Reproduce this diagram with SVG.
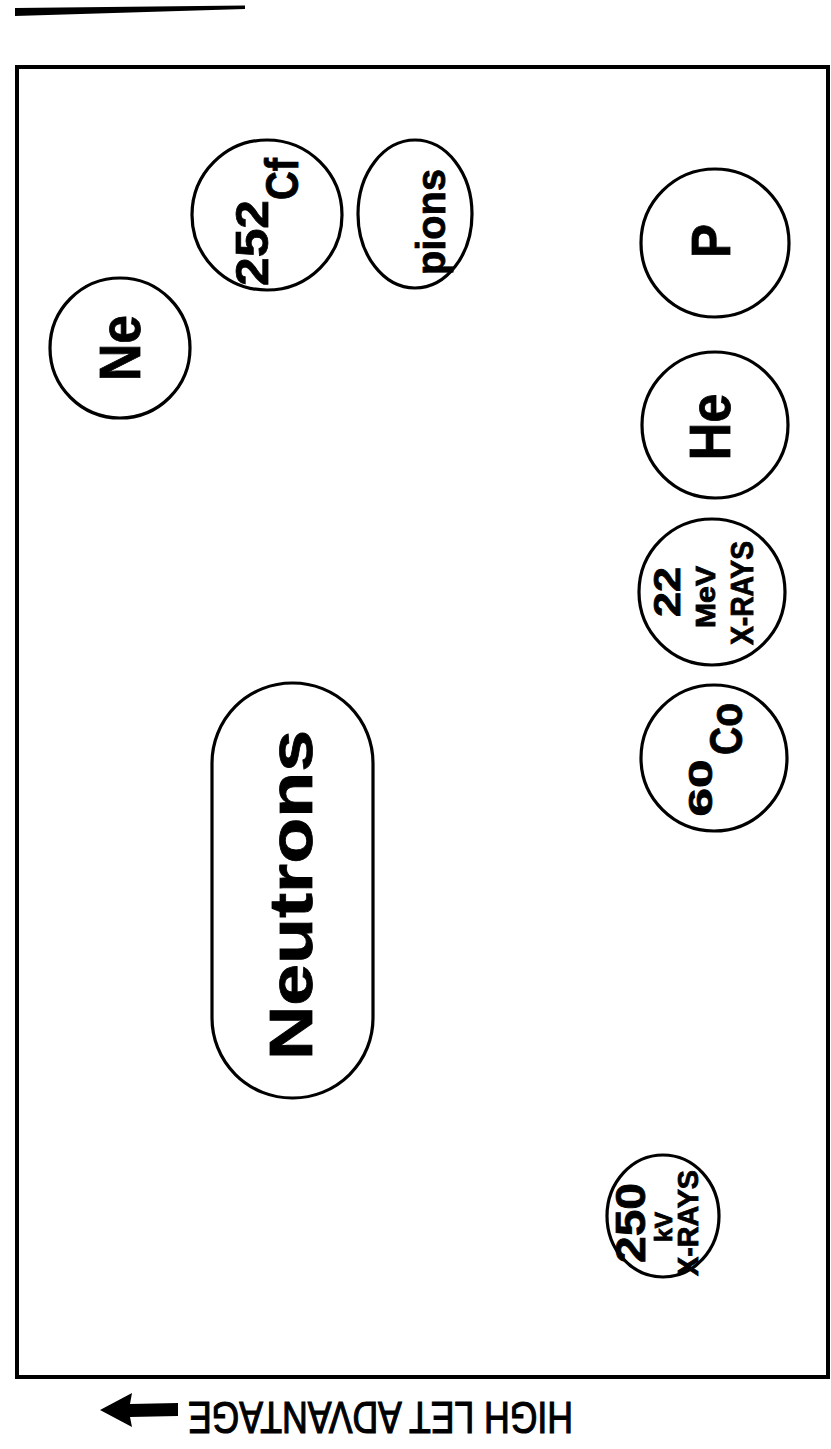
<svg xmlns="http://www.w3.org/2000/svg" width="831" height="1449" viewBox="0 0 831 1449">
<style>
.node{fill:#fff;stroke:#000;stroke-width:3.2}
.t{font-family:"Liberation Sans",Arial,Helvetica,sans-serif;font-weight:bold;fill:#000;stroke:#000;stroke-width:0.8;text-anchor:middle}
.cap{font-family:"Liberation Sans",Arial,Helvetica,sans-serif;font-weight:normal;fill:#000;stroke:#000;stroke-width:1.2;text-anchor:middle}
</style>
<rect width="831" height="1449" fill="#fff"/>
<polygon points="15,8 245,5.5 245,9 15,16" fill="#000"/>
<rect x="17" y="67" width="811" height="1310" fill="none" stroke="#000" stroke-width="4"/>

<g id="Ne">
<circle class="node" cx="120" cy="348" r="70"/>
<g transform="translate(120,348) rotate(-90)"><text class="t" x="0" y="20" font-size="58" textLength="66" lengthAdjust="spacingAndGlyphs">Ne</text></g>
</g>
<g id="Cf252">
<circle class="node" cx="267" cy="215" r="75"/>
<g transform="translate(267,215) rotate(-90)">
<text class="t" x="-28" y="1" font-size="46" textLength="86" lengthAdjust="spacingAndGlyphs">252</text>
<text class="t" x="36" y="31" font-size="46" textLength="42" lengthAdjust="spacingAndGlyphs">Cf</text>
</g>
</g>
<g id="pions">
<ellipse class="node" cx="415" cy="214" rx="57" ry="74"/>
<g transform="translate(415,222) rotate(-90)"><text class="t" x="0" y="30" font-size="41" textLength="106" lengthAdjust="spacingAndGlyphs">pions</text></g>
</g>
<g id="P">
<circle class="node" cx="715" cy="243" r="74"/>
<g transform="translate(715,241) rotate(-90)"><text class="t" x="0" y="15" font-size="55" textLength="34" lengthAdjust="spacingAndGlyphs">P</text></g>
</g>
<g id="He">
<circle class="node" cx="715" cy="425" r="73"/>
<g transform="translate(715,427) rotate(-90)"><text class="t" x="0" y="15" font-size="58" textLength="67" lengthAdjust="spacingAndGlyphs">He</text></g>
</g>
<g id="X22MeV">
<circle class="node" cx="712" cy="592" r="73"/>
<g transform="translate(712,592) rotate(-90)">
<text class="t" x="0" y="-32" font-size="37" textLength="50" lengthAdjust="spacingAndGlyphs">22</text>
<text class="t" x="-5" y="3" font-size="28" textLength="62" lengthAdjust="spacingAndGlyphs">MeV</text>
<text class="t" x="-1" y="41" font-size="31" textLength="104" lengthAdjust="spacingAndGlyphs">X-RAYS</text>
</g>
</g>
<g id="Co60">
<circle class="node" cx="714" cy="758" r="73"/>
<g transform="translate(714,758) rotate(-90)">
<text class="t" x="-30" y="-2" font-size="33" textLength="57" lengthAdjust="spacingAndGlyphs">60</text>
<text class="t" x="29" y="28" font-size="46" textLength="52" lengthAdjust="spacingAndGlyphs">Co</text>
</g>
</g>
<g id="Neutrons">
<rect class="node" x="212" y="683" width="161" height="415" rx="80" ry="80"/>
<g transform="translate(292,895) rotate(-90)"><text class="t" x="0" y="20" font-size="62" textLength="330" lengthAdjust="spacingAndGlyphs">Neutrons</text></g>
</g>
<g id="X250kV">
<ellipse class="node" cx="663" cy="1216" rx="56" ry="61"/>
<g transform="translate(663,1223) rotate(-90)">
<text class="t" x="0" y="-18" font-size="42" textLength="80" lengthAdjust="spacingAndGlyphs">250</text>
<text class="t" x="-4" y="9" font-size="24" textLength="30" lengthAdjust="spacingAndGlyphs">kV</text>
<text class="t" x="0" y="35" font-size="29" textLength="106" lengthAdjust="spacingAndGlyphs">X-RAYS</text>
</g>
</g>

<g id="connectors">
<polygon points="100,1410 132,1393 130,1404 178,1403 178,1416 130,1417 132,1427" fill="#000"/>
</g>
<g id="caption" transform="translate(380.5,1417.5) rotate(180)">
<text class="cap" x="0" y="15.5" font-size="44" textLength="385" lengthAdjust="spacingAndGlyphs">HIGH LET ADVANTAGE</text>
</g>
</svg>
